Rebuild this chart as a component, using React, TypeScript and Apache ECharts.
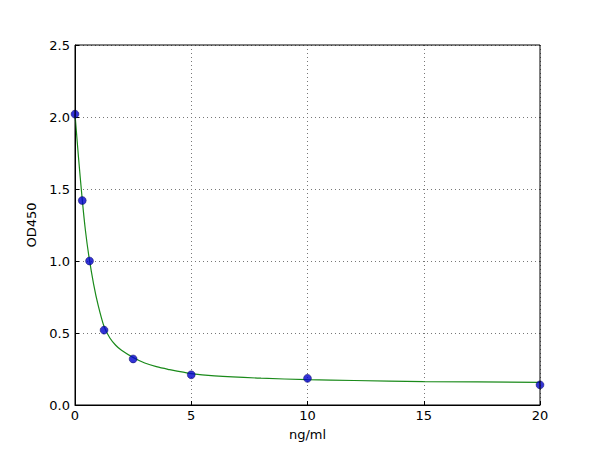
import { useEffect, useRef } from 'react';
import * as echarts from 'echarts';

// measured standards (concentration, OD)
const concentrations = [0, 0.3125, 0.625, 1.25, 2.5, 5, 10, 20];
const odValues = [2.02, 1.42, 1.0, 0.52, 0.32, 0.21, 0.185, 0.14];

// fitted curve
const curveX = [0, 0.15, 0.31, 0.45, 0.6, 0.8, 1.0, 1.25, 1.5, 1.75, 2, 2.5, 3, 3.5, 4, 5, 6, 8, 10, 12, 15, 20];
const curveY = [2.02, 1.72, 1.43, 1.21, 1.03, 0.84, 0.69, 0.545, 0.465, 0.415, 0.38, 0.33, 0.292, 0.266, 0.248, 0.218, 0.202, 0.186, 0.176, 0.17, 0.163, 0.157];

const ChartComponent = () => {
  const chartDom = useRef<HTMLDivElement | null>(null);

  useEffect(() => {
    if (chartDom.current) {
      const myChart = echarts.init(chartDom.current, null, { renderer: 'svg' });
      const font = 'DejaVu Sans';
      const option = {
        animation: false,
        backgroundColor: '#ffffff',
        grid: { left: 75, right: 60, top: 45, bottom: 45, show: false },
        xAxis: {
          type: 'value',
          min: 0,
          max: 20,
          interval: 5,
          name: 'ng/ml',
          nameLocation: 'middle',
          nameGap: 23,
          nameTextStyle: { color: '#000', fontSize: 13, fontFamily: font },
          axisLine: { show: true, onZero: false, lineStyle: { color: '#000', width: 1 } },
          axisTick: { show: true, inside: true, length: 4, lineStyle: { color: '#000' } },
          axisLabel: { color: '#000', fontSize: 13, fontFamily: font, margin: 4 },
          splitLine: { show: true, lineStyle: { color: '#777', type: [1, 3], width: 1 } }
        },
        yAxis: {
          type: 'value',
          min: 0,
          max: 2.5,
          interval: 0.5,
          name: 'OD450',
          nameLocation: 'middle',
          nameGap: 31,
          nameTextStyle: { color: '#000', fontSize: 13, fontFamily: font },
          axisLine: { show: true, onZero: false, lineStyle: { color: '#000', width: 1 } },
          axisTick: { show: true, inside: true, length: 4, lineStyle: { color: '#000' } },
          axisLabel: {
            color: '#000',
            fontSize: 13,
            fontFamily: font,
            margin: 5,
            formatter: (v: number) => v.toFixed(1)
          },
          splitLine: { show: true, lineStyle: { color: '#777', type: [1, 3], width: 1 } }
        },
        graphic: [
          {
            type: 'rect',
            shape: { x: 75, y: 45, width: 465, height: 360 },
            style: { fill: 'none', stroke: '#000', lineWidth: 1 },
            z: 10
          }
        ],
        series: [
          {
            name: 'fit',
            type: 'line',
            smooth: 0.25,
            showSymbol: false,
            lineStyle: { color: '#1a8a1a', width: 1.2 },
            data: curveX.map((x, i) => [x, curveY[i]]),
            z: 2
          },
          {
            name: 'standards',
            type: 'scatter',
            symbolSize: 8,
            itemStyle: { color: '#0000cc', borderColor: '#000044', borderWidth: 0.5 },
            data: concentrations.map((x, i) => [x, odValues[i]]),
            clip: false,
            z: 3
          }
        ]
      };

      myChart.setOption(option);

      return () => {
        myChart.dispose();
      };
    }
  }, []);

  return (
    <div style={{ position: 'absolute', left: 0, top: 0, width: 600, height: 450, background: '#fff' }}>
      <div ref={chartDom} style={{ width: '100%', height: '100%' }} />
    </div>
  );
};

export default function App() {
  return <ChartComponent />;
}
